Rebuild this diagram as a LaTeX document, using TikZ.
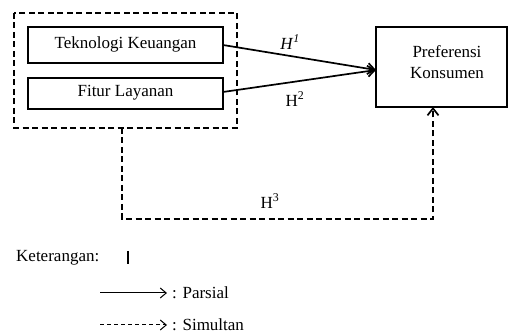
\documentclass[tikz,border=0pt]{standalone}
\usepackage{fontspec}
\setmainfont{Liberation Serif}
\usetikzlibrary{arrows.meta}
\begin{document}
\begin{tikzpicture}[x=1pt,y=-1pt,
  box/.style={draw,line width=1.8pt,inner sep=0pt},
  dashbox/.style={draw,line width=1.8pt,dash pattern=on 6pt off 3.5pt},
  conn/.style={line width=1.7pt,-{Straight Barb[length=7pt,width=11pt,line width=1.7pt]}},
  dconn/.style={line width=1.7pt,dash pattern=on 6pt off 3.5pt,-{Straight Barb[length=7pt,width=11pt,line width=1.7pt]}},
  lbl/.style={font=\fontsize{17}{19}\selectfont,inner sep=0pt},
  leg/.style={line width=1pt,-{Straight Barb[length=6pt,width=10pt,line width=1pt]}},
  legd/.style={line width=1pt,dash pattern=on 4pt off 3pt,-{Straight Barb[length=6pt,width=10pt,line width=1pt]}}
]
\useasboundingbox (0,0) rectangle (509,336);
% outer dashed group
\draw[dashbox] (14,13) rectangle (237,128);
\coordinate (grp) at (122,128);
% inner boxes
\draw[box] (28,27) rectangle (223,63);
\node[lbl] (tek) at (125.5,44) {Teknologi Keuangan};
\coordinate (tekR) at (223,45);
\draw[box] (28,78) rectangle (223,109);
\node[lbl] (fit) at (125.5,93) {Fitur Layanan};
\coordinate (fitR) at (223,92);
% target
\draw[box] (376,27) rectangle (507,107);
\node[lbl,align=center] (pref) at (447,62) {Preferensi\\[2pt]Konsumen};
\coordinate (prefL) at (376,70);
\coordinate (prefB) at (433,107);
% connectors
\draw[conn] (tekR) -- (prefL);
\draw[conn] (fitR) -- (prefL);
\node[lbl] (h1) at (290,42) {\textit{H}\textsuperscript{\textit{1}}};
\node[lbl] (h2) at (295,99) {H\textsuperscript{2}};
\draw[dconn] (grp) -- (122,219) -- (433,219) -- (prefB);
\node[lbl] (h3) at (270,201) {H\textsuperscript{3}};
% legend
\node[lbl,anchor=west] (ket) at (16,258) {Keterangan:};
\draw[line width=1.8pt] (128,251) -- (128,264);
\coordinate (la1) at (100,293);
\coordinate (lb1) at (167,293);
\draw[leg] (la1) -- (lb1);
\node[lbl,anchor=west] (par) at (172,293) {: Parsial};
\coordinate (la2) at (100,325);
\coordinate (lb2) at (167,325);
\draw[legd] (la2) -- (lb2);
\node[lbl,anchor=west] (sim) at (172,325) {: Simultan};
\end{tikzpicture}
\end{document}
